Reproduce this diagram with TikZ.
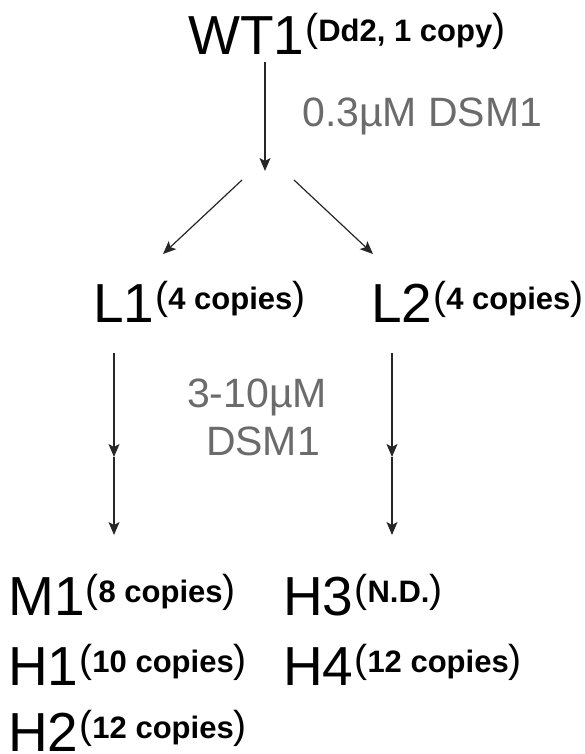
\documentclass[tikz,border=0pt]{standalone}
\usepackage{fontspec}
\setmainfont{Liberation Sans}
\usetikzlibrary{arrows.meta}

\newcommand{\strainsize}{\fontsize{55}{60}\selectfont}
\newcommand{\copynote}[1]{\kern1pt\raisebox{13pt}{\fontsize{39}{40}\selectfont(\fontsize{31}{34}\selectfont\bfseries #1\fontsize{39}{40}\selectfont\mdseries)}}

\begin{document}
\begin{tikzpicture}[x=1pt,y=-1pt,
    strain/.style={anchor=base west, inner sep=0pt, font=\strainsize},
    dose/.style={anchor=base, inner sep=0pt, text=black!58, font=\fontsize{41}{48}\selectfont},
    flow/.style={draw=black!85, line width=1.2pt, -{Stealth[length=13pt,width=11pt,inset=3pt]}}
    ]
    \useasboundingbox (0,0) rectangle (584,754);
    %% Strains
    \node[strain] (wt1) at (188,55) {WT1\copynote{Dd2, 1 copy}};
    \node[strain] (l1) at (93,322) {L1\copynote{4 copies}};
    \node[strain] (l2) at (371,322) {L2\copynote{4 copies}};
    \node[strain] (m1) at (8,615) {M1\copynote{8 copies}};
    \node[strain] (h1) at (8,685) {H1\copynote{10 copies}};
    \node[strain] (h2) at (8,751) {H2\copynote{12 copies}};
    \node[strain] (h3) at (283,615) {H3\copynote{N.D.}};
    \node[strain] (h4) at (283,685) {H4\copynote{12 copies}};
    %% Drug doses
    \node[dose, anchor=base west] (dose1) at (302,127) {0.3µM DSM1};
    \node[dose] (dose2a) at (257,407) {3-10µM};
    \node[dose] (dose2b) at (263,455) {DSM1};
    %% Arrows
    \coordinate (wt1out) at (265,62);
    \coordinate (fork) at (265,171);
    \coordinate (forkl) at (242,180);
    \coordinate (forkr) at (294,180);
    \coordinate (l1in) at (163,254);
    \coordinate (l2in) at (373,254);
    \coordinate (l1out) at (114,353);
    \coordinate (l1mid) at (114,457);
    \coordinate (l1end) at (114,535);
    \coordinate (l2out) at (392,353);
    \coordinate (l2mid) at (392,457);
    \coordinate (l2end) at (392,535);
    \draw[flow] (wt1out) -- (fork);
    \draw[flow] (forkl) -- (l1in);
    \draw[flow] (forkr) -- (l2in);
    \draw[flow] (l1out) -- (l1mid);
    \draw[flow] (l1mid) -- (l1end);
    \draw[flow] (l2out) -- (l2mid);
    \draw[flow] (l2mid) -- (l2end);
\end{tikzpicture}
\end{document}
